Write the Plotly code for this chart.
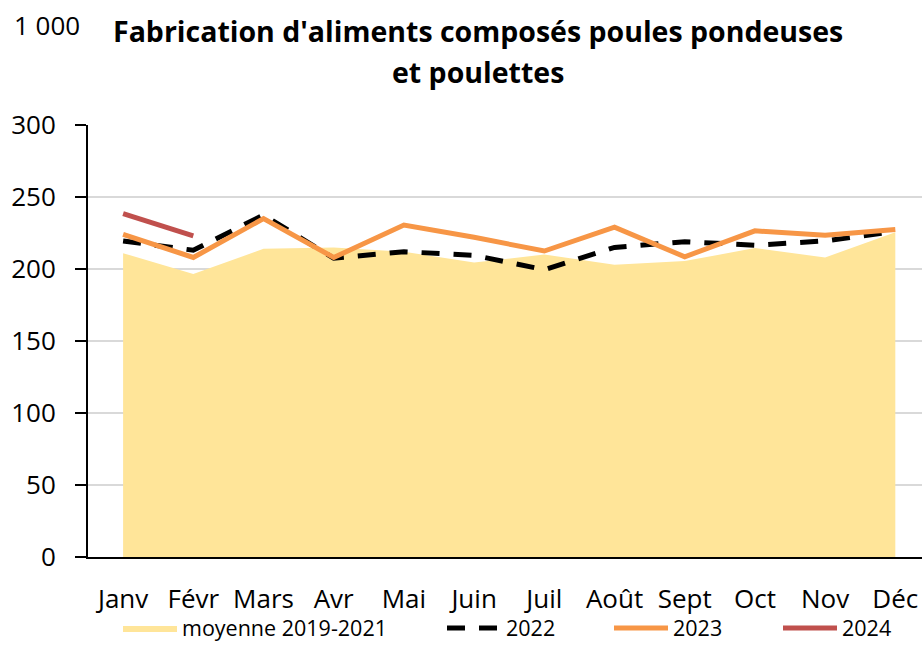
import plotly.graph_objects as go

months = ["Janv", "Févr", "Mars", "Avr", "Mai", "Juin", "Juil", "Août", "Sept", "Oct", "Nov", "Déc"]
moyenne_2019_2021 = [211, 196.5, 214, 215, 212, 204.5, 210, 203, 205.5, 214.5, 208, 225.5]
y2022 = [219.5, 213, 237.5, 207.5, 212, 209.5, 199.5, 215, 219, 216.5, 219.5, 226]
y2023 = [224, 208, 235, 208, 230.5, 222, 212.5, 229, 208.5, 226.5, 223.5, 227.5]
y2024 = [238.5, 223]

FONT = "Open Sans"
W, H = 922, 669
L, T, B = 88, 125, 669 - 557
PW, PH = W - L, 557 - 125

fig = go.Figure()
fig.add_trace(go.Scatter(x=months, y=moyenne_2019_2021, name="moyenne 2019-2021",
                         mode="lines", fill="tozeroy", fillcolor="#FFE599",
                         line=dict(width=0, color="#FFE599"), legend="legend"))
fig.add_trace(go.Scatter(x=months, y=y2022, name="2022", mode="lines",
                         line=dict(color="black", width=5, dash="18px,14px"), legend="legend2"))
fig.add_trace(go.Scatter(x=months, y=y2023, name="2023", mode="lines",
                         line=dict(color="#F79646", width=5), legend="legend3"))
fig.add_trace(go.Scatter(x=months[:len(y2024)], y=y2024, name="2024", mode="lines",
                         line=dict(color="#C0504D", width=5), legend="legend4"))


def leg(text_px):
    xf = text_px - 64
    return dict(xref="container", yref="container", x=xf / W, y=1 - 628 / H,
                xanchor="left", yanchor="middle", orientation="h", itemwidth=54,
                font=dict(size=21.5, family=FONT), bgcolor="rgba(0,0,0,0)")


def px_x(p):
    return (p - L) / PW


def px_y(p):
    return (557 - p) / PH


fig.update_layout(
    width=W, height=H,
    margin=dict(l=L, r=0, t=T, b=B),
    plot_bgcolor="white", paper_bgcolor="white",
    font=dict(family=FONT, size=26, color="black"),
    showlegend=True,
    legend=leg(182), legend2=leg(506), legend3=leg(673), legend4=leg(842),
    xaxis=dict(type="category", range=[-0.5, 11.38], showgrid=False, automargin=False,
               showline=True, linecolor="black", linewidth=2,
               ticks="", ticklabelstandoff=18, fixedrange=True),
    yaxis=dict(range=[0, 300], dtick=50, showgrid=True, gridcolor="#D9D9D9", gridwidth=2,
               showline=True, linecolor="black", linewidth=2, zeroline=False, automargin=False,
               ticks="outside", ticklen=11, tickwidth=2, tickcolor="black",
               ticklabelstandoff=14),
    annotations=[
        dict(text="<b>Fabrication d'aliments composés poules pondeuses</b>",
             xref="paper", yref="paper", x=px_x(478), y=px_y(31),
             xanchor="center", yanchor="middle", showarrow=False,
             font=dict(size=28.5, family=FONT)),
        dict(text="<b>et poulettes</b>",
             xref="paper", yref="paper", x=px_x(478), y=px_y(72),
             xanchor="center", yanchor="middle", showarrow=False,
             font=dict(size=28.5, family=FONT)),
        dict(text="1 000", xref="paper", yref="paper", x=px_x(12), y=px_y(25),
             xanchor="left", yanchor="middle", showarrow=False, font=dict(size=26, family=FONT)),
    ],
)

fig.write_html("out.html", config={"displayModeBar": False},
               post_script="document.body.style.margin='0px';document.body.style.overflow='hidden';")
